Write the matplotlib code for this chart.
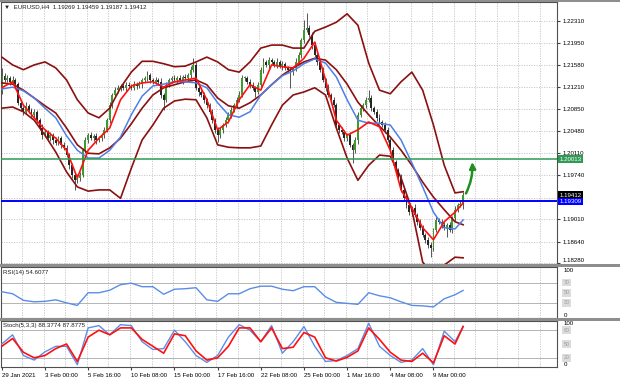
import numpy as np
import matplotlib.pyplot as plt
from matplotlib.patches import Rectangle
from matplotlib.transforms import blended_transform_factory

plt.rcParams['font.family'] = ['Liberation Sans', 'DejaVu Sans']

# EURUSD H4 bars, 29 Jan 2021 08:00 .. 10 Mar 2021 20:00
first_open = 1.2115
closes = [
    1.2140, 1.2133, 1.2136, 1.2130, 1.2133, 1.2126, 1.2095, 1.2086, 1.2080, 1.2090, 1.2083, 1.2075, 1.2080, 1.2066, 1.2053, 1.2041,
    1.2046, 1.2036, 1.2041, 1.2033, 1.2028, 1.2036, 1.2025, 1.2020, 1.2008, 1.1991, 1.1975, 1.1966, 1.1970, 1.1975, 1.2016, 1.2033,
    1.2041, 1.2036, 1.2040, 1.2033, 1.2036, 1.2041, 1.2050, 1.2066, 1.2091, 1.2108, 1.2116, 1.2120, 1.2123, 1.2120, 1.2125, 1.2123,
    1.2120, 1.2126, 1.2123, 1.2126, 1.2133, 1.2136, 1.2141, 1.2133, 1.2130, 1.2133, 1.2130, 1.2108, 1.2100, 1.2125, 1.2133, 1.2136,
    1.2133, 1.2136, 1.2133, 1.2138, 1.2136, 1.2141, 1.2150, 1.2158, 1.2120, 1.2113, 1.2108, 1.2100, 1.2091, 1.2080, 1.2066, 1.2050,
    1.2041, 1.2050, 1.2058, 1.2066, 1.2075, 1.2083, 1.2091, 1.2100, 1.2108, 1.2136, 1.2136, 1.2130, 1.2125, 1.2120, 1.2113, 1.2125,
    1.2150, 1.2163, 1.2158, 1.2166, 1.2163, 1.2158, 1.2163, 1.2156, 1.2160, 1.2153, 1.2150, 1.2146, 1.2153, 1.2163, 1.2174, 1.2199,
    1.2216, 1.2219, 1.2208, 1.2191, 1.2174, 1.2163, 1.2150, 1.2133, 1.2120, 1.2108, 1.2100, 1.2091, 1.2058, 1.2050, 1.2046, 1.2036,
    1.2041, 1.2025, 1.2016, 1.2033, 1.2075, 1.2086, 1.2091, 1.2100, 1.2103, 1.2086, 1.2080, 1.2070, 1.2063, 1.2058, 1.2050, 1.2033,
    1.2016, 1.1996, 1.1983, 1.1970, 1.1950, 1.1937, 1.1925, 1.1913, 1.1920, 1.1908, 1.1897, 1.1887, 1.1875, 1.1867, 1.1858, 1.1853,
    1.1883, 1.1900, 1.1897, 1.1892, 1.1887, 1.1892, 1.1883, 1.1903, 1.1917, 1.1925, 1.19269, 1.19412,
]
# wick length above / below the body, in pips
wick_up = [
    13, 4, 5, 3, 6, 4, 3, 5, 4, 6, 3, 4, 5, 3, 4, 6,
    5, 4, 6, 3, 5, 4, 3, 5, 4, 3, 4, 5, 6, 4, 3, 5,
    4, 6, 3, 5, 4, 3, 5, 4, 6, 3, 5, 4, 3, 6, 4, 5,
    3, 5, 4, 6, 3, 4, 7, 4, 3, 5, 4, 6, 3, 5, 4, 3,
    5, 4, 6, 3, 5, 4, 6, 12, 5, 3, 4, 5, 3, 4, 5, 3,
    4, 5, 3, 6, 4, 5, 3, 4, 6, 5, 4, 3, 5, 4, 3, 5,
    4, 6, 3, 5, 4, 3, 6, 4, 5, 3, 4, 5, 3, 6, 5, 4,
    17, 26, 6, 4, 5, 3, 4, 5, 3, 6, 4, 5, 3, 4, 5, 3,
    4, 6, 3, 5, 4, 5, 3, 4, 13, 5, 3, 4, 6, 3, 5, 4,
    3, 5, 4, 3, 6, 4, 5, 3, 4, 6, 3, 4, 5, 3, 4, 5,
    4, 6, 3, 5, 4, 3, 5, 4, 6, 3, 5, 5,
]
wick_dn = [
    5, 4, 3, 6, 4, 5, 3, 4, 6, 3, 5, 4, 3, 5, 4, 6,
    3, 5, 4, 6, 3, 4, 5, 3, 4, 6, 5, 16, 4, 5, 3, 4,
    5, 3, 4, 6, 3, 5, 4, 3, 4, 5, 3, 4, 6, 3, 5, 4,
    4, 3, 5, 4, 6, 3, 4, 5, 3, 4, 6, 5, 17, 3, 4, 5,
    3, 5, 4, 6, 3, 4, 5, 3, 4, 6, 3, 5, 4, 3, 5, 6,
    11, 4, 5, 3, 4, 6, 3, 5, 4, 3, 5, 4, 6, 3, 8, 4,
    3, 5, 4, 6, 3, 4, 5, 3, 6, 4, 3, 26, 4, 5, 3, 4,
    5, 3, 4, 6, 3, 5, 4, 3, 5, 4, 6, 3, 4, 5, 3, 4,
    5, 3, 21, 4, 6, 3, 5, 4, 3, 5, 4, 6, 3, 4, 5, 3,
    4, 5, 3, 6, 4, 3, 5, 4, 6, 3, 5, 4, 3, 6, 4, 15,
    5, 3, 4, 6, 4, 15, 3, 5, 4, 3, 4, 8,
]

# indicator lines
line_bars = list(range(0, 172, 4)) + [171]
bb_upper = [1.2171, 1.2158, 1.2150, 1.2158, 1.2163, 1.2153, 1.2133, 1.2100, 1.2078, 1.2070, 1.2086,
            1.2120, 1.2146, 1.2164, 1.2164, 1.2160, 1.2155, 1.2156, 1.2163, 1.2171, 1.2163, 1.2150,
            1.2146, 1.2163, 1.2186, 1.2191, 1.2191, 1.2186, 1.2186, 1.2214, 1.2221, 1.2229, 1.2243,
            1.2224, 1.2161, 1.2116, 1.2110, 1.2130, 1.2146, 1.2116, 1.2058, 1.1991, 1.1945, 1.1947]
bb_mid = [1.2128, 1.2126, 1.2116, 1.2103, 1.2090, 1.2078, 1.2053, 1.2025, 1.2011, 1.2010, 1.2020,
          1.2036, 1.2060, 1.2086, 1.2108, 1.2120, 1.2125, 1.2130, 1.2133, 1.2125, 1.2103, 1.2090,
          1.2086, 1.2095, 1.2108, 1.2125, 1.2141, 1.2153, 1.2163, 1.2169, 1.2166, 1.2150, 1.2126,
          1.2096, 1.2075, 1.2056, 1.2038, 1.2016, 1.1991, 1.1963, 1.1938, 1.1917, 1.1897, 1.1892]
bb_lower = [1.2086, 1.2088, 1.2080, 1.2066, 1.2041, 1.2013, 1.1980, 1.1955, 1.1948, 1.1950, 1.1950,
            1.1936, 1.1986, 1.2033, 1.2058, 1.2086, 1.2098, 1.2101, 1.2100, 1.2070, 1.2025, 1.2021,
            1.2020, 1.2020, 1.2023, 1.2058, 1.2091, 1.2108, 1.2113, 1.2120, 1.2108, 1.2053, 1.2003,
            1.1966, 1.1991, 1.2008, 1.2006, 1.1970, 1.1917, 1.1830, 1.1808, 1.1825, 1.1838, 1.1837]
ma_fast = [1.2120, 1.2130, 1.2091, 1.2070, 1.2050, 1.2036, 1.2016, 1.1970, 1.2016, 1.2036, 1.2053,
           1.2100, 1.2123, 1.2128, 1.2130, 1.2121, 1.2130, 1.2133, 1.2136, 1.2100, 1.2050, 1.2063,
           1.2100, 1.2125, 1.2116, 1.2158, 1.2155, 1.2153, 1.2169, 1.2196, 1.2133, 1.2066, 1.2041,
           1.2050, 1.2063, 1.2055, 1.2016, 1.1950, 1.1920, 1.1887, 1.1867, 1.1897, 1.1913, 1.1928]
ma_slow = [1.2118, 1.2121, 1.2115, 1.2103, 1.2086, 1.2070, 1.2040, 1.2016, 1.2003, 1.2003, 1.2016,
           1.2038, 1.2075, 1.2106, 1.2123, 1.2126, 1.2130, 1.2130, 1.2128, 1.2120, 1.2095, 1.2075,
           1.2071, 1.2080, 1.2108, 1.2125, 1.2140, 1.2148, 1.2160, 1.2168, 1.2161, 1.2138, 1.2100,
           1.2066, 1.2061, 1.2061, 1.2058, 1.2033, 1.1995, 1.1955, 1.1913, 1.1887, 1.1885, 1.1900]
rsi = [52, 48, 35, 32, 33, 36, 30, 25, 50, 50, 55, 66, 69, 62, 62, 47, 57, 58, 60, 36, 33, 48,
       48, 58, 63, 63, 57, 54, 62, 62, 42, 31, 29, 27, 50, 44, 40, 32, 25, 24, 22, 38, 46, 54.6077]
stoch_main = [50, 70, 25, 15, 33, 45, 45, 5, 85, 90, 70, 92, 90, 55, 38, 40, 80, 55, 25, 10, 25, 65,
              92, 80, 55, 90, 30, 55, 88, 45, 12, 14, 25, 40, 95, 45, 25, 10, 15, 40, 5, 78, 55, 88.3774]
stoch_signal = [45, 62, 32, 20, 25, 40, 50, 12, 65, 80, 70, 85, 85, 60, 45, 30, 72, 68, 35, 15, 20, 45,
                85, 85, 55, 85, 40, 43, 75, 65, 20, 13, 21, 35, 85, 60, 32, 15, 12, 30, 9, 68, 50, 87.8775]

date_bars = list(range(0, 161, 16))
date_labels = ["29 Jan 2021", "3 Feb 00:00", "5 Feb 16:00", "10 Feb 08:00", "15 Feb 00:00",
               "17 Feb 16:00", "22 Feb 08:00", "25 Feb 00:00", "1 Mar 16:00", "4 Mar 08:00",
               "9 Mar 00:00"]
price_ticks = [1.22310, 1.21950, 1.21580, 1.21210, 1.20850, 1.20480, 1.20110,
               1.19740, 1.19370, 1.19010, 1.18640, 1.18280]
resistance = 1.20013
support = 1.19309
last_price = 1.19412

W, H = 620, 383
FS = 4.4
DARKRED = '#8b1010'
GRID = '#c4c4c4'


def fy(py):
    return 1 - py / H


fig = plt.figure(figsize=(6.2, 3.83), dpi=100)
left, right = 1 / W, 557 / W
ax = fig.add_axes([left, fy(264), right - left, fy(2) - fy(264)])
ax_rsi = fig.add_axes([left, fy(318), right - left, fy(267) - fy(318)], sharex=ax)
ax_st = fig.add_axes([left, fy(367), right - left, fy(321) - fy(367)], sharex=ax)

# candles
n = len(closes)
idx = np.arange(n)
c = np.array(closes)
o = np.r_[first_open, c[:-1]]
hi = np.maximum(o, c) + np.array(wick_up) * 0.0001
lo = np.minimum(o, c) - np.array(wick_dn) * 0.0001
up = c >= o
ax.vlines(idx, lo, hi, color='#3a3a3a', lw=0.6, zorder=2)
body = np.where(np.abs(c - o) < 0.00012, 0.00012, c - o)
ax.bar(idx[up], body[up], bottom=o[up], width=0.7, color='#3f9a2e', lw=0, zorder=2)
ax.bar(idx[~up], body[~up], bottom=o[~up], width=0.7, color='#262626', lw=0, zorder=2)

# bands and moving averages
for band in (bb_upper, bb_mid, bb_lower):
    ax.plot(line_bars, band, color=DARKRED, lw=1.2, zorder=3, solid_joinstyle='round')
ax.plot(line_bars, ma_slow, color='#4f7fe6', lw=1.1, zorder=4, solid_joinstyle='round')
ax.plot(line_bars, ma_fast, color='#ff1010', lw=1.2, zorder=5, solid_joinstyle='round')

ax.axhline(resistance, color='#2f9a55', lw=1.1, zorder=6)
ax.axhline(support, color='#0000ff', lw=1.4, zorder=6)

ax.annotate('', xy=(174.3, 1.2001), xytext=(171.6, 1.1940),
            arrowprops=dict(arrowstyle='-|>', color='#1f8f1f', lw=1.8, mutation_scale=9,
                            connectionstyle='arc3,rad=0.15'), zorder=7)

ax.set_xlim(-0.3, 205.8)
ax.set_ylim(1.18267, 1.22627)
ax.set_yticks(price_ticks)
ax.set_yticklabels(['' if abs(p - 1.1937) < 1e-6 else f'{p:.5f}' for p in price_ticks])
ax.yaxis.tick_right()
ax.tick_params(axis='y', labelsize=FS, length=2, pad=2, color='#404040')
ax.tick_params(axis='x', bottom=False, labelbottom=False)
ax.get_yticklabels()[-1].set_va('bottom')

tr = blended_transform_factory(ax.transAxes, ax.transData)
for val, col in ((resistance, '#2f9a55'), (last_price, '#000000'), (support, '#0000ff')):
    ax.text(1.004, val, f'{val:.5f}', transform=tr, fontsize=FS, color='white', va='center',
            ha='left', clip_on=False, zorder=10,
            bbox=dict(boxstyle='square,pad=0.2', fc=col, ec='none'))

# RSI
ax_rsi.plot(idx[line_bars], rsi, color='#5b8de8', lw=1.0, zorder=3)
ax_rsi.set_ylim(0, 101)
for lvl in (70, 30):
    ax_rsi.axhline(lvl, color='#b4b4b4', lw=0.7, zorder=1)
ax_rsi.text(0.004, 0.95, 'RSI(14) 54.6077', transform=ax_rsi.transAxes, fontsize=FS,
            va='top', color='#202020')

# Stochastic
ax_st.plot(idx[line_bars], stoch_main, color='#5b8de8', lw=1.0, zorder=3)
ax_st.plot(idx[line_bars], stoch_signal, color='#ff1010', lw=1.2, zorder=4)
ax_st.set_ylim(0, 100)
for lvl in (80, 20):
    ax_st.axhline(lvl, color='#b4b4b4', lw=0.7, zorder=1)
ax_st.text(0.004, 0.95, 'Stoch(5,3,3) 88.3774 87.8775', transform=ax_st.transAxes, fontsize=FS,
           va='top', color='#202020')

for a, top, levels in ((ax_rsi, 100, (70, 50, 30)), (ax_st, 100, (80, 50, 20))):
    a.set_yticks([])
    t = blended_transform_factory(a.transAxes, a.transData)
    a.text(1.012, top, '100', transform=t, fontsize=FS, va='top', clip_on=False)
    a.text(1.012, 0, '0', transform=t, fontsize=FS, va='bottom', clip_on=False)
    for lvl in levels:
        a.text(1.012, lvl, f'{lvl}', transform=t, fontsize=FS - 0.6, va='center', color='#9a9a9a',
               clip_on=False, bbox=dict(boxstyle='square,pad=0.25', fc='#dcdcdc', ec='none'))
    a.tick_params(axis='x', bottom=False, labelbottom=False)

ax_st.set_xticks(date_bars)
ax_st.set_xticklabels(date_labels, ha='left')
ax_st.tick_params(axis='x', bottom=True, labelbottom=True, labelsize=FS, length=2.5, pad=1.5,
                  color='#404040')

# grid
for a in (ax, ax_rsi, ax_st):
    for b in range(8, 206, 8):
        a.axvline(b - 0.5, color=GRID, lw=0.6, ls=(0, (1.5, 1.5)), zorder=0)
    for s in a.spines.values():
        s.set_color('#505050')
        s.set_linewidth(0.8)
for p in price_ticks:
    ax.axhline(p, color=GRID, lw=0.6, ls=(0, (1.5, 1.5)), zorder=0)

# window chrome
for y0, y1 in ((0, 2), (264, 267), (318, 321)):
    fig.add_artist(Rectangle((0, fy(y1)), 1, fy(y0) - fy(y1), transform=fig.transFigure,
                             color='#8e8e8e', lw=0))
fig.text(4 / W, fy(7), '\u25bc  EURUSD,H4  1.19269 1.19459 1.19187 1.19412', fontsize=FS,
         va='center', color='#202020')

fig.savefig('out.png', dpi=100)
